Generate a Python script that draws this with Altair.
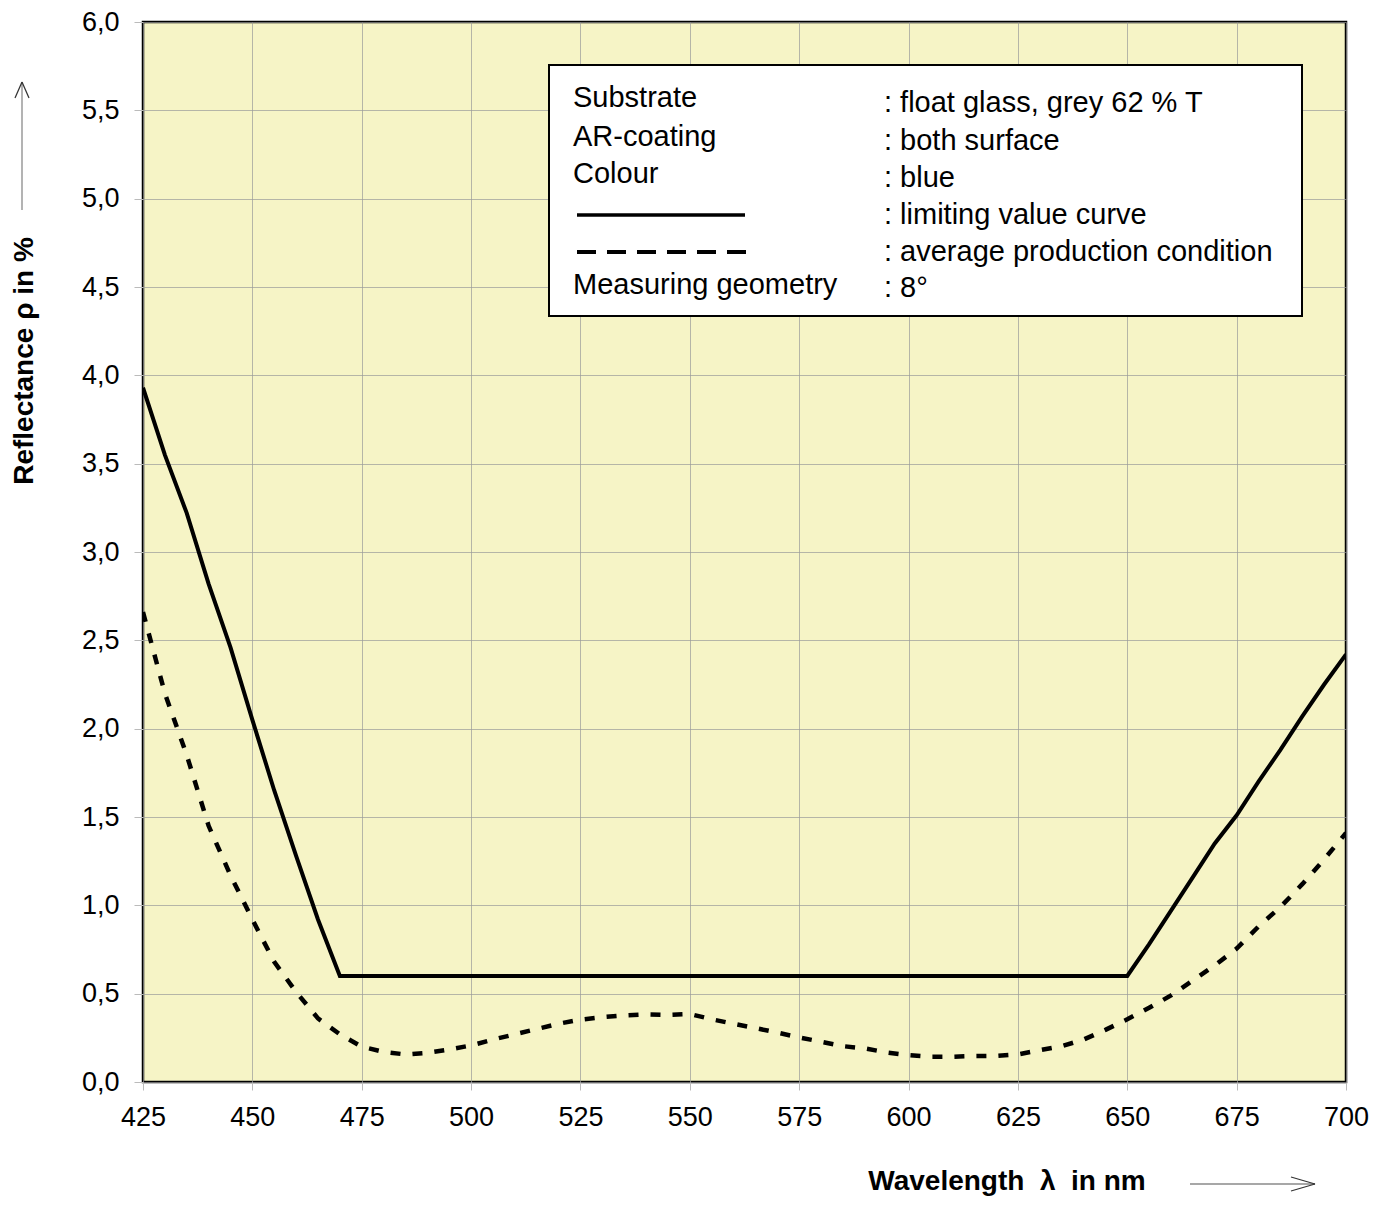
import altair as alt
import pandas as pd

# ---- data ----
wl_limit = [425, 430, 435, 440, 445, 450, 455, 460, 465, 470,
            650, 655, 660, 665, 670, 675, 680, 685, 690, 695, 700]
rho_limit = [3.93, 3.55, 3.22, 2.82, 2.46, 2.05, 1.65, 1.28, 0.92, 0.60,
             0.60, 0.78, 0.97, 1.16, 1.35, 1.51, 1.70, 1.88, 2.07, 2.25, 2.42]

wl_avg = list(range(425, 701, 5))
rho_avg = [2.66, 2.20, 1.85, 1.45, 1.17, 0.92, 0.68, 0.51, 0.36, 0.27,
           0.20, 0.17, 0.156, 0.165, 0.184, 0.207, 0.24, 0.27, 0.30, 0.33,
           0.353, 0.367, 0.377, 0.383, 0.38, 0.385, 0.355, 0.33, 0.305, 0.28,
           0.252, 0.228, 0.203, 0.19, 0.167, 0.152, 0.143, 0.143, 0.147, 0.148,
           0.156, 0.18, 0.203, 0.24, 0.295, 0.355, 0.42, 0.49, 0.575, 0.66,
           0.755, 0.88, 0.99, 1.12, 1.26, 1.41]

x_ticks = [425, 450, 475, 500, 525, 550, 575, 600, 625, 650, 675, 700]
y_ticks = [0.0, 0.5, 1.0, 1.5, 2.0, 2.5, 3.0, 3.5, 4.0, 4.5, 5.0, 5.5, 6.0]

legend_left = ["Substrate", "AR-coating", "Colour", "Measuring geometry"]
legend_left_rows = [0, 1, 2, 5]
legend_right = [": float glass, grey 62 % T", ": both surface", ": blue",
                ": limiting value curve", ": average production condition", ": 8°"]

x_title = "Wavelength\u00a0\u00a0λ\u00a0\u00a0in nm"
y_title = "Reflectance\u00a0ρ\u00a0in %"

FONT = "Liberation Sans"
W, H = 1203, 1060

df_limit = pd.DataFrame({"wl": wl_limit, "rho": rho_limit})
df_avg = pd.DataFrame({"wl": wl_avg, "rho": rho_avg})

xs = alt.Scale(domain=[425, 700], nice=False, zero=False)
ys = alt.Scale(domain=[0, 6], nice=False, zero=True)

x_axis = alt.Axis(values=x_ticks, title=None, labelFont=FONT, labelFontSize=27,
                  labelColor="#000", labelPadding=14, tickColor="#bbbbbb", tickSize=8,
                  domain=False, gridColor="#9a9a9a", gridWidth=1, gridOpacity=0.7,
                  labelFlush=False)
y_axis = alt.Axis(values=y_ticks, title=None, labelFont=FONT, labelFontSize=27,
                  labelColor="#000", labelPadding=15, tickColor="#bbbbbb", tickSize=9,
                  domain=False, gridColor="#9a9a9a", gridWidth=1, gridOpacity=0.7,
                  labelExpr="replace(format(datum.value, '.1f'), '.', ',')",
                  labelFlush=False)

limit = alt.Chart(df_limit).mark_line(color="#000", strokeWidth=4, clip=True).encode(
    x=alt.X("wl:Q", scale=xs, axis=x_axis),
    y=alt.Y("rho:Q", scale=ys, axis=y_axis),
)
avg = alt.Chart(df_avg).mark_line(color="#000", strokeWidth=4.5, strokeDash=[10, 12],
                                  clip=True).encode(
    x=alt.X("wl:Q", scale=xs),
    y=alt.Y("rho:Q", scale=ys),
)

# ---- legend box ----
box_df = pd.DataFrame({"k": [0]})
box = alt.Chart(box_df).mark_rect(fill="white", stroke="#000", strokeWidth=2).encode(
    x=alt.value(406), x2=alt.value(1159), y=alt.value(43), y2=alt.value(294))

row_y_left = [76, 115, 152, 193, 230, 263]
row_y_right = [81, 119, 156, 193, 230, 266]

layers = [limit, avg, box]
for lbl, r in zip(legend_left, legend_left_rows):
    layers.append(alt.Chart(box_df).mark_text(
        text=lbl, font=FONT, fontSize=29, align="left", baseline="middle", color="#000"
    ).encode(x=alt.value(430), y=alt.value(row_y_left[r])))
for i, lbl in enumerate(legend_right):
    layers.append(alt.Chart(box_df).mark_text(
        text=lbl, font=FONT, fontSize=29, align="left", baseline="middle", color="#000"
    ).encode(x=alt.value(741), y=alt.value(row_y_right[i])))

layers.append(alt.Chart(box_df).mark_rule(color="#000", strokeWidth=3.5).encode(
    x=alt.value(434), x2=alt.value(602), y=alt.value(193)))
layers.append(alt.Chart(box_df).mark_rule(color="#000", strokeWidth=4, strokeDash=[19, 11]).encode(
    x=alt.value(434), x2=alt.value(614), y=alt.value(230)))

# ---- axis titles with arrows ----
layers.append(alt.Chart(box_df).mark_text(
    text=y_title, font=FONT, fontSize=28, fontWeight="bold", angle=270,
    align="center", baseline="middle", color="#000"
).encode(x=alt.value(-118), y=alt.value(339)))
arrow_col = "#8a8a8a"
layers.append(alt.Chart(box_df).mark_rule(color=arrow_col, strokeWidth=1.3).encode(
    x=alt.value(-121), y=alt.value(60), y2=alt.value(188)))
layers.append(alt.Chart(box_df).mark_rule(color="#333", strokeWidth=1.2).encode(
    x=alt.value(-121), x2=alt.value(-128), y=alt.value(60), y2=alt.value(76)))
layers.append(alt.Chart(box_df).mark_rule(color="#333", strokeWidth=1.2).encode(
    x=alt.value(-121), x2=alt.value(-114), y=alt.value(60), y2=alt.value(76)))

layers.append(alt.Chart(box_df).mark_text(
    text=x_title, font=FONT, fontSize=28, fontWeight="bold",
    align="center", baseline="middle", color="#000"
).encode(x=alt.value(864), y=alt.value(1160)))
layers.append(alt.Chart(box_df).mark_rule(color=arrow_col, strokeWidth=1.3).encode(
    x=alt.value(1047), x2=alt.value(1172), y=alt.value(1162)))
layers.append(alt.Chart(box_df).mark_rule(color="#333", strokeWidth=1.2).encode(
    x=alt.value(1172), x2=alt.value(1148), y=alt.value(1162), y2=alt.value(1155)))
layers.append(alt.Chart(box_df).mark_rule(color="#333", strokeWidth=1.2).encode(
    x=alt.value(1172), x2=alt.value(1148), y=alt.value(1162), y2=alt.value(1169)))

chart = alt.layer(*layers).properties(
    width=W, height=H,
    autosize=alt.AutoSizeParams(type="none"),
    padding={"left": 135, "top": 14, "right": 26, "bottom": 116},
    background="white",
).configure_view(
    fill="#F6F4C6", stroke="#000", strokeWidth=2.5
)

chart.save("out.html", embed_options={"renderer": "svg", "actions": False})
